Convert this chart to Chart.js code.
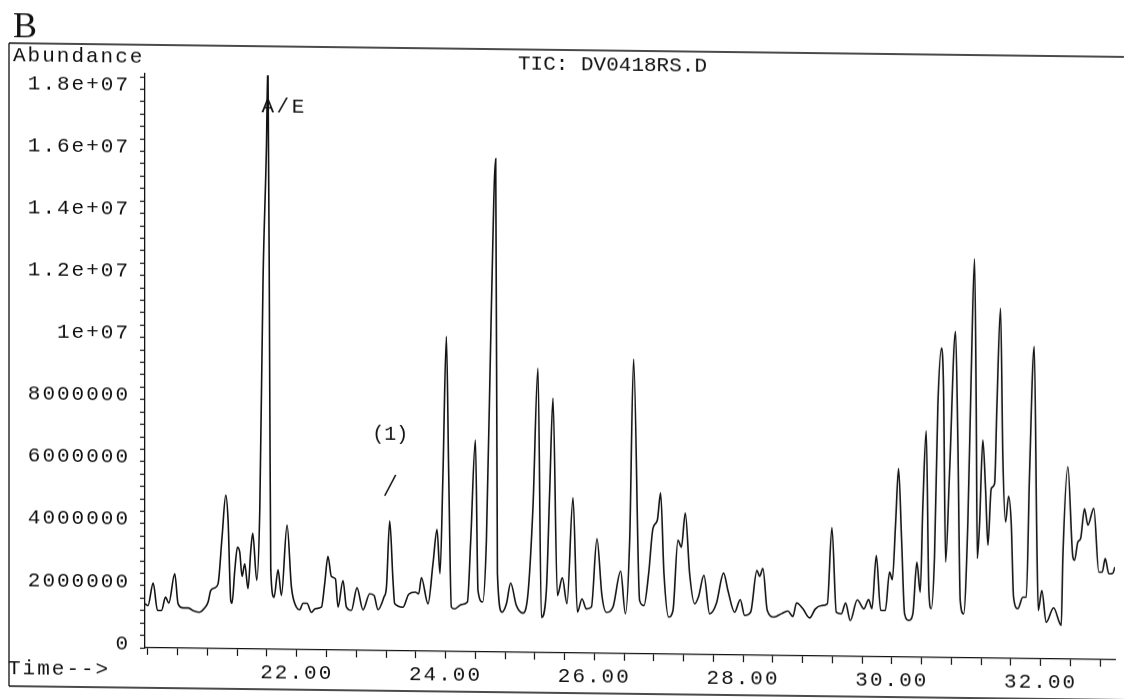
<!DOCTYPE html>
<html>
<head>
<meta charset="utf-8">
<title>TIC: DV0418RS.D</title>
<script src="https://cdn.jsdelivr.net/npm/chart.js@4.4.1/dist/chart.umd.min.js"></script>
<style>
  html, body { margin: 0; padding: 0; background: #fff; overflow: hidden; }
  #sheet { position: relative; width: 1124px; height: 699px; transform: skewY(0.71deg); transform-origin: 0 0; }
  canvas { display: block; }
</style>
</head>
<body>
<div id="sheet"><canvas id="tic" width="1124" height="699"></canvas></div>
<script>
// Retention time (min) of each sampled point of the total ion chromatogram
const retentionTimes = [
  19.96, 20.00, 20.07, 20.128, 20.182, 20.236, 20.28, 20.36, 20.405, 20.472,
  20.539, 20.606, 20.696, 20.763, 20.808, 20.844, 20.898, 20.942, 20.996, 21.046,
  21.077, 21.113, 21.13, 21.167, 21.203, 21.234, 21.265, 21.301, 21.345, 21.382,
  21.409, 21.462, 21.503, 21.547, 21.593, 21.613, 21.638, 21.651, 21.695, 21.749,
  21.794, 21.870, 21.929, 21.996, 22.040, 22.085, 22.138, 22.197, 22.251, 22.332,
  22.376, 22.420, 22.466, 22.520, 22.555, 22.622, 22.668, 22.735, 22.810, 22.891,
  22.981, 23.039, 23.093, 23.173, 23.206, 23.250, 23.294, 23.317, 23.429, 23.505,
  23.595, 23.640, 23.676, 23.765, 23.832, 23.886, 23.926, 23.966, 24.012, 24.043,
  24.079, 24.124, 24.214, 24.294, 24.339, 24.402, 24.437, 24.500, 24.550, 24.617,
  24.675, 24.698, 24.760, 24.819, 24.876, 24.953, 25.042, 25.109, 25.176, 25.243,
  25.289, 25.356, 25.401, 25.445, 25.504, 25.571, 25.633, 25.714, 25.773, 25.835,
  25.894, 25.961, 26.036, 26.103, 26.162, 26.251, 26.355, 26.418, 26.476, 26.529,
  26.610, 26.668, 26.731, 26.789, 26.848, 26.892, 26.937, 27.000, 27.058, 27.125,
  27.171, 27.224, 27.282, 27.349, 27.403, 27.474, 27.551, 27.641, 27.739, 27.797,
  27.887, 27.963, 28.021, 28.102, 28.187, 28.223, 28.267, 28.326, 28.415, 28.514,
  28.603, 28.670, 28.720, 28.805, 28.895, 28.972, 29.052, 29.133, 29.195, 29.254,
  29.321, 29.379, 29.442, 29.536, 29.625, 29.688, 29.733, 29.792, 29.850, 29.913,
  29.970, 30.007, 30.051, 30.091, 30.132, 30.172, 30.229, 30.283, 30.337, 30.382,
  30.417, 30.463, 30.498, 30.530, 30.574, 30.619, 30.669, 30.696, 30.723, 30.776,
  30.857, 30.888, 30.920, 30.965, 31.022, 31.068, 31.113, 31.135, 31.149, 31.180,
  31.224, 31.261, 31.292, 31.337, 31.382, 31.413, 31.462, 31.493, 31.530, 31.570,
  31.606, 31.637, 31.695, 31.762, 31.808, 31.852, 31.915, 31.950, 31.969, 32.017,
  32.076, 32.175, 32.278, 32.300, 32.367, 32.434, 32.457, 32.501, 32.538, 32.591,
  32.636, 32.716, 32.783, 32.829, 32.869, 32.918, 32.971, 33.000
];

// Abundance at each retention time, in millions of counts
const abundanceMillions = [
  1.42, 1.36, 2.09, 1.21, 1.21, 1.64, 1.45, 2.40, 1.43, 1.30,
  1.30, 1.22, 1.17, 1.31, 1.50, 1.87, 1.96, 2.09, 3.60, 4.95,
  4.14, 1.56, 1.47, 2.53, 3.28, 3.12, 2.34, 2.75, 1.95, 3.18,
  3.74, 2.22, 4.48, 11.91, 16.22, 19.00, 8.03, 2.55, 1.68, 2.57,
  1.74, 4.01, 2.01, 1.37, 1.29, 1.50, 1.50, 1.21, 1.33, 1.38,
  2.14, 3.02, 2.37, 2.30, 1.39, 2.25, 1.39, 1.29, 2.02, 1.31,
  1.83, 1.78, 1.32, 1.73, 2.05, 4.19, 2.27, 1.52, 1.41, 1.83,
  1.90, 1.85, 2.37, 1.53, 2.83, 3.93, 2.51, 5.74, 10.15, 5.74,
  1.43, 1.38, 1.52, 1.60, 3.59, 6.83, 1.98, 1.61, 3.60, 11.14,
  15.90, 2.53, 1.29, 1.56, 2.23, 1.51, 1.27, 1.90, 4.69, 9.17,
  1.14, 2.01, 5.24, 8.21, 1.85, 2.42, 1.59, 5.01, 1.32, 1.75,
  1.43, 1.49, 3.70, 1.87, 1.33, 1.50, 2.66, 1.29, 3.66, 9.50,
  1.72, 1.56, 2.59, 4.05, 4.32, 5.20, 2.60, 1.20, 1.41, 3.68,
  3.46, 4.56, 2.61, 1.64, 1.88, 2.56, 1.32, 1.65, 2.64, 2.08,
  1.38, 1.79, 1.28, 1.39, 2.74, 2.55, 2.80, 1.45, 1.24, 1.35,
  1.44, 1.27, 1.71, 1.52, 1.23, 1.52, 1.63, 1.69, 4.15, 1.42,
  1.37, 1.72, 1.16, 1.83, 1.54, 1.84, 1.55, 3.27, 1.50, 1.50,
  2.74, 2.49, 4.30, 6.08, 3.77, 1.40, 1.19, 1.40, 3.07, 2.10,
  4.85, 7.31, 2.16, 1.57, 3.24, 8.09, 9.98, 8.63, 3.08, 5.94,
  10.52, 7.02, 1.85, 1.42, 4.33, 9.18, 12.87, 8.10, 3.21, 4.34,
  7.03, 5.42, 3.64, 5.47, 5.63, 8.11, 11.29, 6.50, 4.40, 5.23,
  4.35, 1.98, 1.61, 1.98, 1.98, 5.97, 10.07, 3.82, 1.56, 2.21,
  1.18, 1.65, 1.09, 3.29, 6.20, 3.30, 3.19, 3.78, 3.89, 4.86,
  4.33, 4.87, 2.82, 2.82, 3.26, 2.77, 2.79, 2.99
];

// Labelled abundance ticks (minor ticks every fifth of a step between them)
const yLabelValues = [0, 2e6, 4e6, 6e6, 8e6, 1e7, 1.2e7, 1.4e7, 1.6e7, 1.8e7];
const yTickLabels = ['0', '2000000', '4000000', '6000000', '8000000', '1e+07', '1.2e+07', '1.4e+07', '1.6e+07', '1.8e+07'];
const yMinorPerStep = 5;

// Labelled time ticks
const xLabelValues = [22, 24, 26, 28, 30, 32];
const xTickLabels = ['22.00', '24.00', '26.00', '28.00', '30.00', '32.00'];

// Peak annotations
const annotationTexts = ['A/E', '(1)'];
const annotationTimes = [21.613, 23.250];

const panelLetter = 'B';
const yAxisTitle = 'Abundance';
const xAxisTitle = 'Time-->';
const traceTitle = 'TIC: DV0418RS.D';

const MONO = '"Liberation Mono", "DejaVu Sans Mono", monospace';
const SERIF = '"Liberation Serif", "DejaVu Serif", serif';
const INK = '#111111';
const Y_MAX = 1.85e7;

const points = retentionTimes.map((t, i) => ({ x: t, y: abundanceMillions[i] * 1e6 }));

function labelFor(values, labels, v, tol) {
  for (let i = 0; i < values.length; i++) {
    if (Math.abs(values[i] - Number(v)) < tol) return labels[i];
  }
  return '';
}

function valueAt(t) {
  const i = retentionTimes.indexOf(t);
  return abundanceMillions[i] * 1e6;
}

// Abundance tick positions: labelled values plus the minor marks between them, up to the axis top
function abundanceTicks() {
  const step = (yLabelValues[1] - yLabelValues[0]) / yMinorPerStep;
  const ticks = [];
  for (let v = 0; v <= Y_MAX + 1; v += step) ticks.push({ value: Math.round(v) });
  return ticks;
}

function setSpacing(ctx, px) {
  if ('letterSpacing' in ctx) ctx.letterSpacing = px + 'px';
}

// Page furniture: frame, panel letter, titles
const framePlugin = {
  id: 'frame',
  beforeDraw(chart) {
    const ctx = chart.ctx;
    const W = chart.width;
    ctx.save();
    ctx.fillStyle = '#fff';
    ctx.fillRect(0, 0, W, chart.height);

    ctx.strokeStyle = INK;
    ctx.lineWidth = 1.3;
    ctx.beginPath();
    ctx.moveTo(9, 43); ctx.lineTo(W, 43);
    ctx.moveTo(9, 43); ctx.lineTo(9, 686);
    ctx.moveTo(9, 686); ctx.lineTo(W, 686);
    ctx.stroke();

    ctx.fillStyle = INK;
    ctx.textBaseline = 'alphabetic';
    ctx.textAlign = 'left';
    ctx.font = '36px ' + SERIF;
    ctx.fillText(panelLetter, 13, 37);

    ctx.font = '21px ' + MONO;
    setSpacing(ctx, 2);
    ctx.fillText(yAxisTitle, 13, 61);
    ctx.fillText(xAxisTitle, 8, 674);

    setSpacing(ctx, 0);
    ctx.fillText(traceTitle, 518, 62.5);
    ctx.restore();

    // wide monospace look for the axis tick labels drawn next
    setSpacing(ctx, 2);
  },
  afterDatasetsDraw(chart) {
    const ctx = chart.ctx;
    const xs = chart.scales.x, ys = chart.scales.y;
    ctx.save();
    ctx.fillStyle = INK;
    ctx.strokeStyle = INK;
    ctx.textBaseline = 'alphabetic';

    // A/E peak runs off scale; its label sits just below the top of the axis
    const aeX = xs.getPixelForValue(annotationTimes[0]);
    ctx.font = '21px ' + MONO;
    setSpacing(ctx, 2.5);
    ctx.textAlign = 'left';
    ctx.fillText(annotationTexts[0], aeX - 6.5, chart.chartArea.top + 36.5);

    // (1) with a pointer stroke above its peak
    const p1x = xs.getPixelForValue(annotationTimes[1]);
    const p1y = ys.getPixelForValue(valueAt(annotationTimes[1]));
    setSpacing(ctx, 0);
    ctx.font = '20px ' + MONO;
    ctx.textAlign = 'center';
    ctx.fillText(annotationTexts[1], p1x + 0.5, p1y - 81);
    ctx.lineWidth = 1.6;
    ctx.beginPath();
    ctx.moveTo(p1x - 5, p1y - 25);
    ctx.lineTo(p1x + 6, p1y - 46);
    ctx.stroke();
    ctx.restore();
  }
};

const tickFont = { family: MONO, size: 21 };

new Chart(document.getElementById('tic'), {
  type: 'line',
  data: {
    datasets: [{
      data: points,
      borderColor: INK,
      borderWidth: 1.6,
      pointRadius: 0,
      fill: false,
      cubicInterpolationMode: 'monotone'
    }]
  },
  options: {
    responsive: false,
    animation: false,
    devicePixelRatio: 1,
    layout: { padding: { left: 0, top: 72, right: 9, bottom: 0 } },
    plugins: {
      legend: { display: false },
      tooltip: { enabled: false },
      title: { display: false }
    },
    scales: {
      x: {
        type: 'linear',
        min: 19.96,
        max: 33.0,
        afterFit(scale) { scale.height = 53; },
        border: { color: INK, width: 1.3 },
        grid: { drawOnChartArea: false, tickLength: 7, tickColor: INK, tickWidth: 1.2 },
        ticks: {
          stepSize: 0.4,
          includeBounds: false,
          autoSkip: false,
          maxRotation: 0,
          padding: 4,
          color: INK,
          font: tickFont,
          callback: (v) => labelFor(xLabelValues, xTickLabels, v, 1e-4)
        }
      },
      y: {
        type: 'linear',
        min: 0,
        max: Y_MAX,
        afterBuildTicks(scale) { scale.ticks = abundanceTicks(); },
        afterFit(scale) { scale.width = 145; },
        border: { color: INK, width: 1.3 },
        grid: { drawOnChartArea: false, tickLength: 5, tickColor: INK, tickWidth: 1.2 },
        ticks: {
          autoSkip: false,
          padding: 10,
          labelOffset: -4,
          color: INK,
          font: tickFont,
          callback: (v) => labelFor(yLabelValues, yTickLabels, v, 1000)
        }
      }
    }
  },
  plugins: [framePlugin]
});
</script>
</body>
</html>
